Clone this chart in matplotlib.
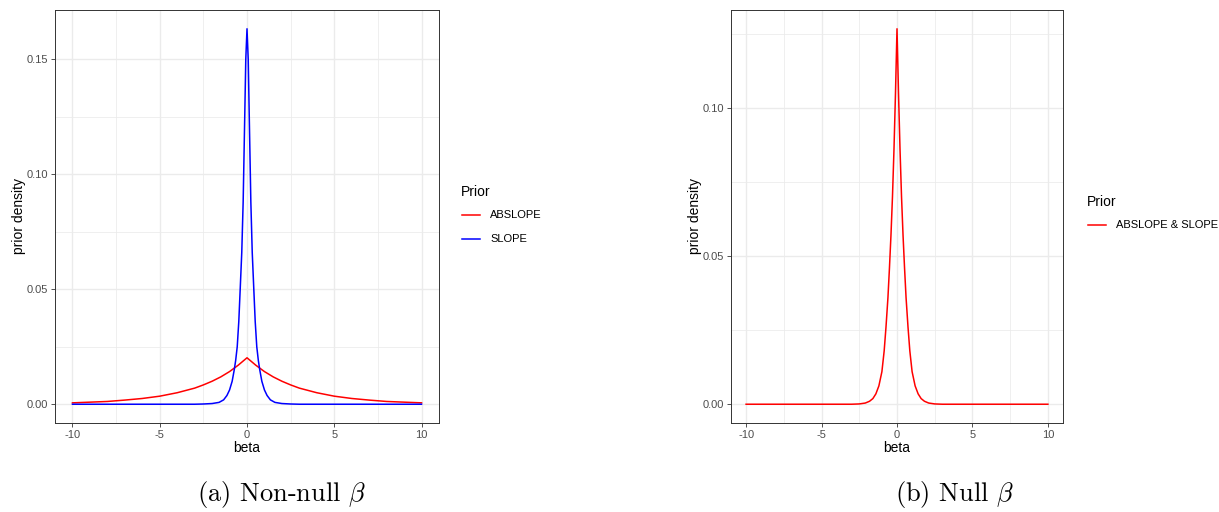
import matplotlib
matplotlib.use("Agg")
import matplotlib.pyplot as plt
from matplotlib.lines import Line2D
import numpy as np

# ---- data (right half, mirrored for beta < 0) ----
abslope_x = [0, 0.5, 1, 1.5, 2, 2.5, 3, 4, 5, 6, 7, 8, 9, 10]
abslope_y = [0.0202, 0.0170, 0.0142, 0.0119, 0.0100, 0.0084, 0.0070,
             0.0050, 0.0035, 0.0025, 0.0018, 0.0012, 0.0009, 0.0006]

slope_x = [0, 0.07, 0.13, 0.22, 0.30, 0.39, 0.47, 0.56, 0.65, 0.73, 0.85,
           1.0, 1.15, 1.34, 1.6, 2.0, 2.5, 3.0, 5.0, 10]
slope_y = [0.1633, 0.150, 0.125, 0.088, 0.066, 0.050, 0.036, 0.025, 0.019,
           0.0150, 0.0100, 0.0062, 0.0038, 0.0019, 0.0008, 0.0003, 0.0001,
           0.0, 0.0, 0.0]

null_x = [0, 0.1, 0.2, 0.3, 0.4, 0.5, 0.6, 0.73, 0.85, 1.0,
          1.2, 1.4, 1.6, 1.82, 2.1, 2.5, 3.0, 5.0, 10]
null_y = [0.1267, 0.105, 0.086, 0.070, 0.057, 0.046, 0.036, 0.026, 0.018,
          0.011, 0.0062, 0.0035, 0.0019, 0.0010, 0.0004, 0.0001,
          0.0, 0.0, 0.0]

x_ticks = [-10, -5, 0, 5, 10]
x_tick_labels = ["-10", "-5", "0", "5", "10"]
left_y_ticks = [0.0, 0.05, 0.10, 0.15]
left_y_labels = ["0.00", "0.05", "0.10", "0.15"]
right_y_ticks = [0.0, 0.05, 0.10]
right_y_labels = ["0.00", "0.05", "0.10"]

legend_title = "Prior"
left_series = ["ABSLOPE", "SLOPE"]
right_series = ["ABSLOPE & SLOPE"]
captions = [r"(a) Non-null $\beta$", r"(b) Null $\beta$"]


def mirror(xs, ys):
    xs = np.asarray(xs, float)
    ys = np.asarray(ys, float)
    return (np.concatenate([-xs[::-1], xs[1:]]),
            np.concatenate([ys[::-1], ys[1:]]))


plt.rcParams["font.family"] = ["Liberation Sans", "DejaVu Sans"]
plt.rcParams["mathtext.fontset"] = "cm"

W, H = 1219, 512
fig = plt.figure(figsize=(W / 100, H / 100), dpi=100)


def px_axes(l, t, r, b):
    return fig.add_axes([l / W, 1 - b / H, (r - l) / W, (b - t) / H])


GRID = "#EBEBEB"
BORDER = "#333333"
TICKLAB = "#4D4D4D"


def style(ax, yticks, ylabels, ymax):
    ax.set_xlim(-11, 11)
    ax.set_ylim(-0.05 * ymax, ymax * 1.05)
    ax.set_xticks(x_ticks)
    ax.set_xticklabels(x_tick_labels)
    ax.set_yticks(yticks)
    ax.set_yticklabels(ylabels)
    ax.set_xticks([-7.5, -2.5, 2.5, 7.5], minor=True)
    ax.set_yticks([0.025, 0.075, 0.125], minor=True)
    ax.grid(True, which="major", color=GRID, linewidth=1.0, zorder=0)
    ax.grid(True, which="minor", color=GRID, linewidth=0.55, zorder=0)
    ax.tick_params(which="major", direction="out", length=3, width=0.6,
                   color=BORDER, labelcolor=TICKLAB, labelsize=8, pad=2)
    ax.tick_params(which="minor", length=0)
    for s in ax.spines.values():
        s.set_color(BORDER)
        s.set_linewidth(0.7)
    ax.set_axisbelow(True)
    ax.set_xlabel("beta", fontsize=10, labelpad=1)
    ax.set_ylabel("prior density", fontsize=10, labelpad=0.5)


# ---- left panel ----
ax1 = px_axes(55, 10, 439, 423)
xa, ya = mirror(abslope_x, abslope_y)
xs, ys = mirror(slope_x, slope_y)
ax1.plot(xa, ya, color="#FF0000", linewidth=1.1, zorder=3)
ax1.plot(xs, ys, color="#0000FF", linewidth=1.1, zorder=3)
style(ax1, left_y_ticks, left_y_labels, max(slope_y))

# ---- right panel ----
ax2 = px_axes(731, 10, 1063, 423)
xn, yn = mirror(null_x, null_y)
ax2.plot(xn, yn, color="#FF0000", linewidth=1.1, zorder=3)
style(ax2, right_y_ticks, right_y_labels, max(null_y))


# ---- legends (drawn in figure pixel coordinates) ----
def legend(x0, y_title, entries, colors, dy=24):
    fig.text(x0 / W, 1 - y_title / H, legend_title, fontsize=10,
             va="center", ha="left")
    for i, (lab, c) in enumerate(zip(entries, colors)):
        y = y_title + 23 + i * dy
        fig.add_artist(Line2D([(x0 + 1) / W, (x0 + 19) / W],
                              [1 - y / H, 1 - y / H], color=c,
                              linewidth=1.1, transform=fig.transFigure))
        fig.text((x0 + 29) / W, 1 - y / H, lab, fontsize=8, va="center",
                 ha="left")


legend(461, 192, left_series, ["#FF0000", "#0000FF"])
legend(1087, 202, right_series, ["#FF0000"])

# ---- captions ----
fig.text(282 / W, 1 - 494 / H, captions[0], fontsize=19, family="cmr10",
         ha="center", va="center")
fig.text(955 / W, 1 - 494 / H, captions[1], fontsize=19, family="cmr10",
         ha="center", va="center")

fig.savefig("out.png", dpi=100)
